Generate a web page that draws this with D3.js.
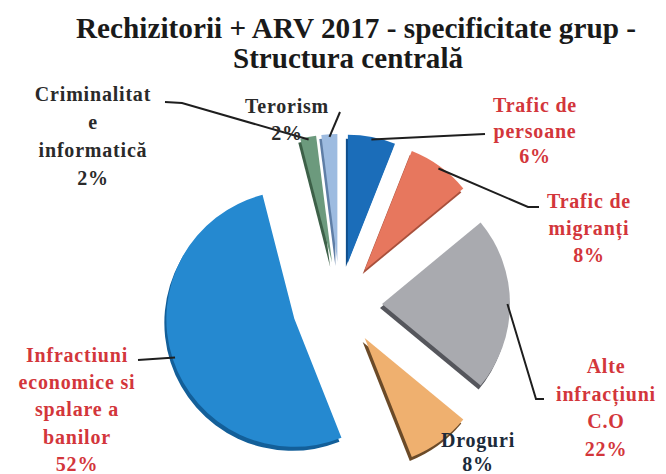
<!DOCTYPE html>
<html lang="ro">
<head>
<meta charset="utf-8">
<title>Rechizitorii + ARV 2017 - Structura centrala</title>
<script src="https://d3js.org/d3.v7.min.js"></script>
<style>
  body { margin: 0; background: #fff; }
  text { font-family: "Liberation Serif", "Times New Roman", serif; font-weight: bold; }
</style>
</head>
<body>
<script>
// data, clockwise from 12 o'clock
var categories = ["Trafic de persoane", "Trafic de migranți", "Alte infracțiuni C.O", "Droguri",
                  "Infractiuni economice si spalare a banilor", "Criminalitate informatică", "Terorism"];
var values = [6, 8, 22, 8, 52, 2, 2];
var labelLines = [
  ["Trafic de", "persoane", "6%"],
  ["Trafic de", "migranți", "8%"],
  ["Alte", "infracțiuni", "C.O", "22%"],
  ["Droguri", "8%"],
  ["Infractiuni", "economice si", "spalare a", "banilor", "52%"],
  ["Criminalitat", "e", "informatică", "2%"],
  ["Terorism", "2%"]
];

var colors = ["#1b6db9", "#e7775e", "#a9aaaf", "#efb06f", "#2589d0", "#6c9a7d", "#9dbbe0"];
var darks  = ["#0f4e8c", "#a8503c", "#55565c", "#6b4a28", "#135f99", "#3d6048", "#5f7ea6"];

// label placement: centre x, first baseline y, line step, colour, leader points (after the slice anchor)
var layout = [
  {x: 535, y: 112, step: 25.5, fill: "#d3363b", leader: [[485, 134]]},
  {x: 589, y: 208, step: 27, fill: "#d3363b", leader: [[528, 207], [539, 207]]},
  {x: 606, y: 373, step: 27.5, fill: "#d3363b", leader: [[536, 399], [544, 399]]},
  {x: 478, y: 447, step: 24, fill: "#1c2b3a", leader: null},
  {x: 77, y: 362, step: 27.2, fill: "#d3363b", leader: [[138, 360]]},
  {x: 93, y: 101, step: 28, fill: "#2a2a2a", leader: [[182, 103], [165, 102]]},
  {x: 287, y: 113, step: 27, fill: "#2a2a2a", leader: [[340, 112]]}
];

var width = 666, height = 474;
var cx = 340, cy = 304, radius = 128, explode = 42;

var svg = d3.select("body").append("svg")
    .attr("width", width)
    .attr("height", height);

// title
var title = svg.append("text")
    .attr("text-anchor", "middle")
    .attr("font-size", 30)
    .attr("fill", "#1a1a1a");
title.append("tspan").attr("x", 356).attr("y", 38)
    .attr("textLength", 560).attr("lengthAdjust", "spacingAndGlyphs")
    .text("Rechizitorii + ARV 2017 - specificitate grup -");
title.append("tspan").attr("x", 348).attr("y", 68)
    .attr("textLength", 230).attr("lengthAdjust", "spacingAndGlyphs")
    .text("Structura centrală");

var pie = d3.pie().sort(null).value(function(d) { return d; });
var arcs = pie(values);

var arc = d3.arc().innerRadius(0).outerRadius(radius);

function offset(d, i) {
  var a = (d.startAngle + d.endAngle) / 2;
  var e = i == 4 ? explode + 6 : explode;
  return [cx + Math.sin(a) * e, cy - Math.cos(a) * e];
}

var slice = svg.selectAll(".slice")
    .data(arcs)
    .enter()
    .append("g")
    .attr("class", "slice")
    .attr("transform", function(d, i) {
      var o = offset(d, i);
      return "translate(" + o[0] + "," + o[1] + ")";
    });

// a darker copy under each slice gives the thin 3d edge
slice.append("path")
    .attr("d", arc)
    .attr("transform", "translate(-2,4)")
    .attr("fill", function(d, i) { return darks[i]; });

slice.append("path")
    .attr("d", arc)
    .attr("fill", function(d, i) { return colors[i]; });

// leader lines from the slice rim to the labels
var line = d3.line();
arcs.forEach(function(d, i) {
  if (!layout[i].leader) return;
  var o = offset(d, i);
  var a = (d.startAngle + d.endAngle) / 2;
  var r = radius * 0.98;
  var pts = [[o[0] + Math.sin(a) * r, o[1] - Math.cos(a) * r]].concat(layout[i].leader);
  svg.append("path")
      .attr("d", line(pts))
      .attr("fill", "none")
      .attr("stroke", "#1e1e1e")
      .attr("stroke-width", 2);
});

// labels
arcs.forEach(function(d, i) {
  var L = layout[i];
  var t = svg.append("text")
      .attr("text-anchor", "middle")
      .attr("font-size", 20)
      .attr("letter-spacing", 0.8)
      .attr("fill", L.fill);
  labelLines[i].forEach(function(s, k) {
    t.append("tspan")
        .attr("x", L.x)
        .attr("y", L.y + k * L.step)
        .text(s);
  });
});
</script>
</body>
</html>
